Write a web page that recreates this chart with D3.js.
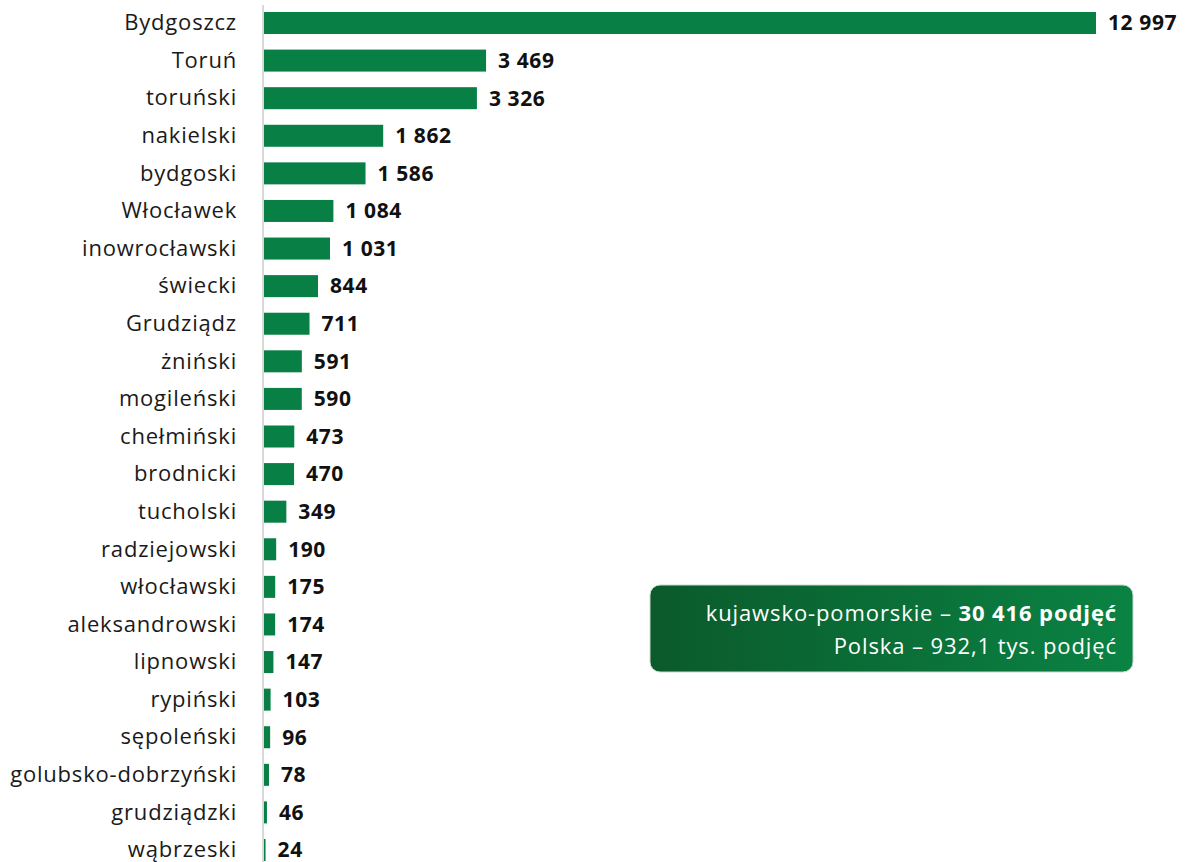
<!DOCTYPE html>
<html lang="pl">
<head>
<meta charset="UTF-8">
<title>Podjęcia</title>
<script src="https://d3js.org/d3.v7.min.js"></script>
<style>
  body { margin: 0; background: #fff; }
  svg text { font-family: "Open Sans", sans-serif; }
</style>
</head>
<body>
<svg id="chart"></svg>
<script>
// categories and values
var regions = ["Bydgoszcz", "Toruń", "toruński", "nakielski", "bydgoski", "Włocławek",
  "inowrocławski", "świecki", "Grudziądz", "żniński", "mogileński", "chełmiński",
  "brodnicki", "tucholski", "radziejowski", "włocławski", "aleksandrowski",
  "lipnowski", "rypiński", "sępoleński", "golubsko-dobrzyński", "grudziądzki", "wąbrzeski"];
var values = [12997, 3469, 3326, 1862, 1586, 1084, 1031, 844, 711, 591, 590, 473,
  470, 349, 190, 175, 174, 147, 103, 96, 78, 46, 24];
var noteLines = [
  [{t: "kujawsko-pomorskie – ", b: false}, {t: "30 416 podjęć", b: true}],
  [{t: "Polska – 932,1 tys. podjęć", b: false}]
];

var width = 1187, height = 862;
// Polish number format, space as thousands separator
var fmt = d3.formatLocale({decimal: ",", thousands: " ", grouping: [3], currency: ["", " zł"]}).format(",");

var svg = d3.select("#chart").attr("width", width).attr("height", height);

var x = d3.scaleLinear().domain([0, 12997]).range([264, 1096]);
var y = d3.scalePoint().domain(regions).range([23, 850]);
var barH = 22;

// bars
svg.selectAll(".bar")
  .data(regions)
  .enter().append("rect")
    .attr("class", "bar")
    .attr("x", x(0))
    .attr("y", function(d) { return y(d) - barH / 2; })
    .attr("width", function(d, i) { return x(values[i]) - x(0); })
    .attr("height", barH)
    .attr("fill", "#087f44");

// axis line
svg.append("line")
  .attr("x1", 263).attr("x2", 263)
  .attr("y1", 5).attr("y2", height)
  .attr("stroke", "#d9d9d9").attr("stroke-width", 2);

// category labels
svg.selectAll(".cat")
  .data(regions)
  .enter().append("text")
    .attr("class", "cat")
    .attr("x", 237)
    .attr("y", function(d) { return y(d); })
    .attr("dy", "0.33em")
    .attr("text-anchor", "end")
    .attr("font-size", 22)
    .attr("letter-spacing", 0.8)
    .attr("fill", "#1a1a1a")
    .text(function(d) { return d; });

// value labels
svg.selectAll(".val")
  .data(regions)
  .enter().append("text")
    .attr("class", "val")
    .attr("x", function(d, i) { return x(values[i]) + 12; })
    .attr("y", function(d) { return y(d); })
    .attr("dy", "0.35em")
    .attr("font-size", 21)
    .attr("font-weight", "bold")
    .attr("letter-spacing", 0.6)
    .attr("fill", "#111")
    .text(function(d, i) { return fmt(values[i]); });

// note box
var defs = svg.append("defs");
var grad = defs.append("linearGradient").attr("id", "boxgrad")
  .attr("x1", "0%").attr("y1", "0%").attr("x2", "100%").attr("y2", "0%");
grad.append("stop").attr("offset", "0%").attr("stop-color", "#0b5a2b");
grad.append("stop").attr("offset", "100%").attr("stop-color", "#0a8343");

svg.append("rect")
  .attr("x", 650).attr("y", 585)
  .attr("width", 483).attr("height", 87)
  .attr("rx", 10)
  .attr("fill", "url(#boxgrad)")
  .attr("stroke", "#c9d9cf").attr("stroke-width", 1);

var note = svg.append("g");
noteLines.forEach(function(parts, i) {
  var t = note.append("text")
    .attr("x", 1117)
    .attr("y", 621 + i * 33)
    .attr("text-anchor", "end")
    .attr("font-size", 22)
    .attr("letter-spacing", 0.9)
    .attr("fill", "#fff");
  parts.forEach(function(p) {
    t.append("tspan").attr("font-weight", p.b ? "bold" : "normal").text(p.t);
  });
});
</script>
</body>
</html>
